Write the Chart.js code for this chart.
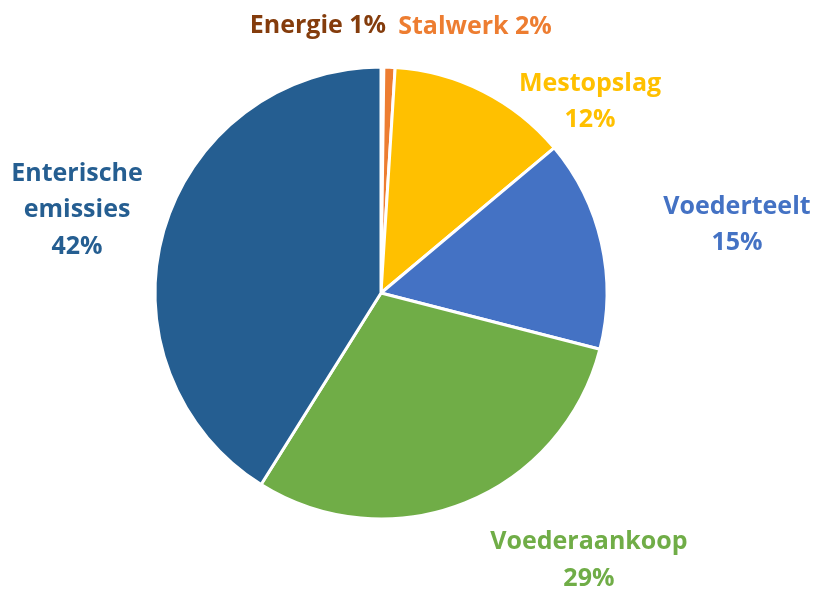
<!DOCTYPE html>
<html>
<head>
<meta charset="utf-8">
<script src="https://cdn.jsdelivr.net/npm/chart.js@4/dist/chart.umd.min.js"></script>
<style>
  html, body { margin: 0; padding: 0; background: #ffffff; }
  #wrap { width: 820px; height: 591px; }
</style>
</head>
<body>
<div id="wrap"><canvas id="taart" width="820" height="591"></canvas></div>
<script>
// Aandeel per bron (geschat uit de hoeken van de taart)
const categories = ["Energie", "Stalwerk", "Mestopslag", "Voederteelt", "Voederaankoop", "Enterische emissies"];
const shares = [0.2, 0.8, 12.9, 15.1, 29.9, 41.1];
const percentLabels = ["1%", "2%", "12%", "15%", "29%", "42%"];
const labelLines = [["Energie 1%"], ["Stalwerk 2%"], ["Mestopslag", "12%"], ["Voederteelt", "15%"], ["Voederaankoop", "29%"], ["Enterische", "emissies", "42%"]];
const sliceColors = ["#9E480E", "#ED7D31", "#FFC000", "#4472C4", "#70AD47", "#255E91"];
const labelColors = ["#843C0C", "#ED7D31", "#FFC000", "#4472C4", "#70AD47", "#255E91"];

// plek van elk label t.o.v. het midden, in stralen
const labelOffsets = [[-0.279, -1.181], [0.416, -1.177], [0.925, -0.845], [1.575, -0.301], [0.920, 1.184], [-1.345, -0.367]];

const labelPlugin = {
  id: "pieLabels",
  afterDatasetsDraw(chart) {
    const ctx = chart.ctx;
    const arcs = chart.getDatasetMeta(0).data;
    ctx.save();
    ctx.font = "bold 25px 'Open Sans'";
    ctx.textAlign = "center";
    ctx.textBaseline = "middle";
    arcs.forEach((arc, i) => {
      const r = arc.outerRadius;
      const cx = arc.x + labelOffsets[i][0] * r;
      const cy = arc.y + labelOffsets[i][1] * r;
      const lines = labelLines[i];
      const lh = 36.5;
      ctx.fillStyle = labelColors[i];
      lines.forEach((t, k) => {
        ctx.fillText(t, cx, cy + (k - (lines.length - 1) / 2) * lh);
      });
    });
    ctx.restore();
  }
};

new Chart(document.getElementById("taart").getContext("2d"), {
  type: "pie",
  data: {
    labels: categories,
    datasets: [{
      data: shares,
      backgroundColor: sliceColors,
      borderColor: "#ffffff",
      borderWidth: 3
    }]
  },
  options: {
    responsive: false,
    animation: false,
    devicePixelRatio: 1,
    layout: { padding: { left: 153.5, right: 211.5, top: 65.5, bottom: 70.5 } },
    plugins: {
      legend: { display: false },
      tooltip: { enabled: false },
      title: { display: false }
    }
  },
  plugins: [labelPlugin]
});
</script>
</body>
</html>
